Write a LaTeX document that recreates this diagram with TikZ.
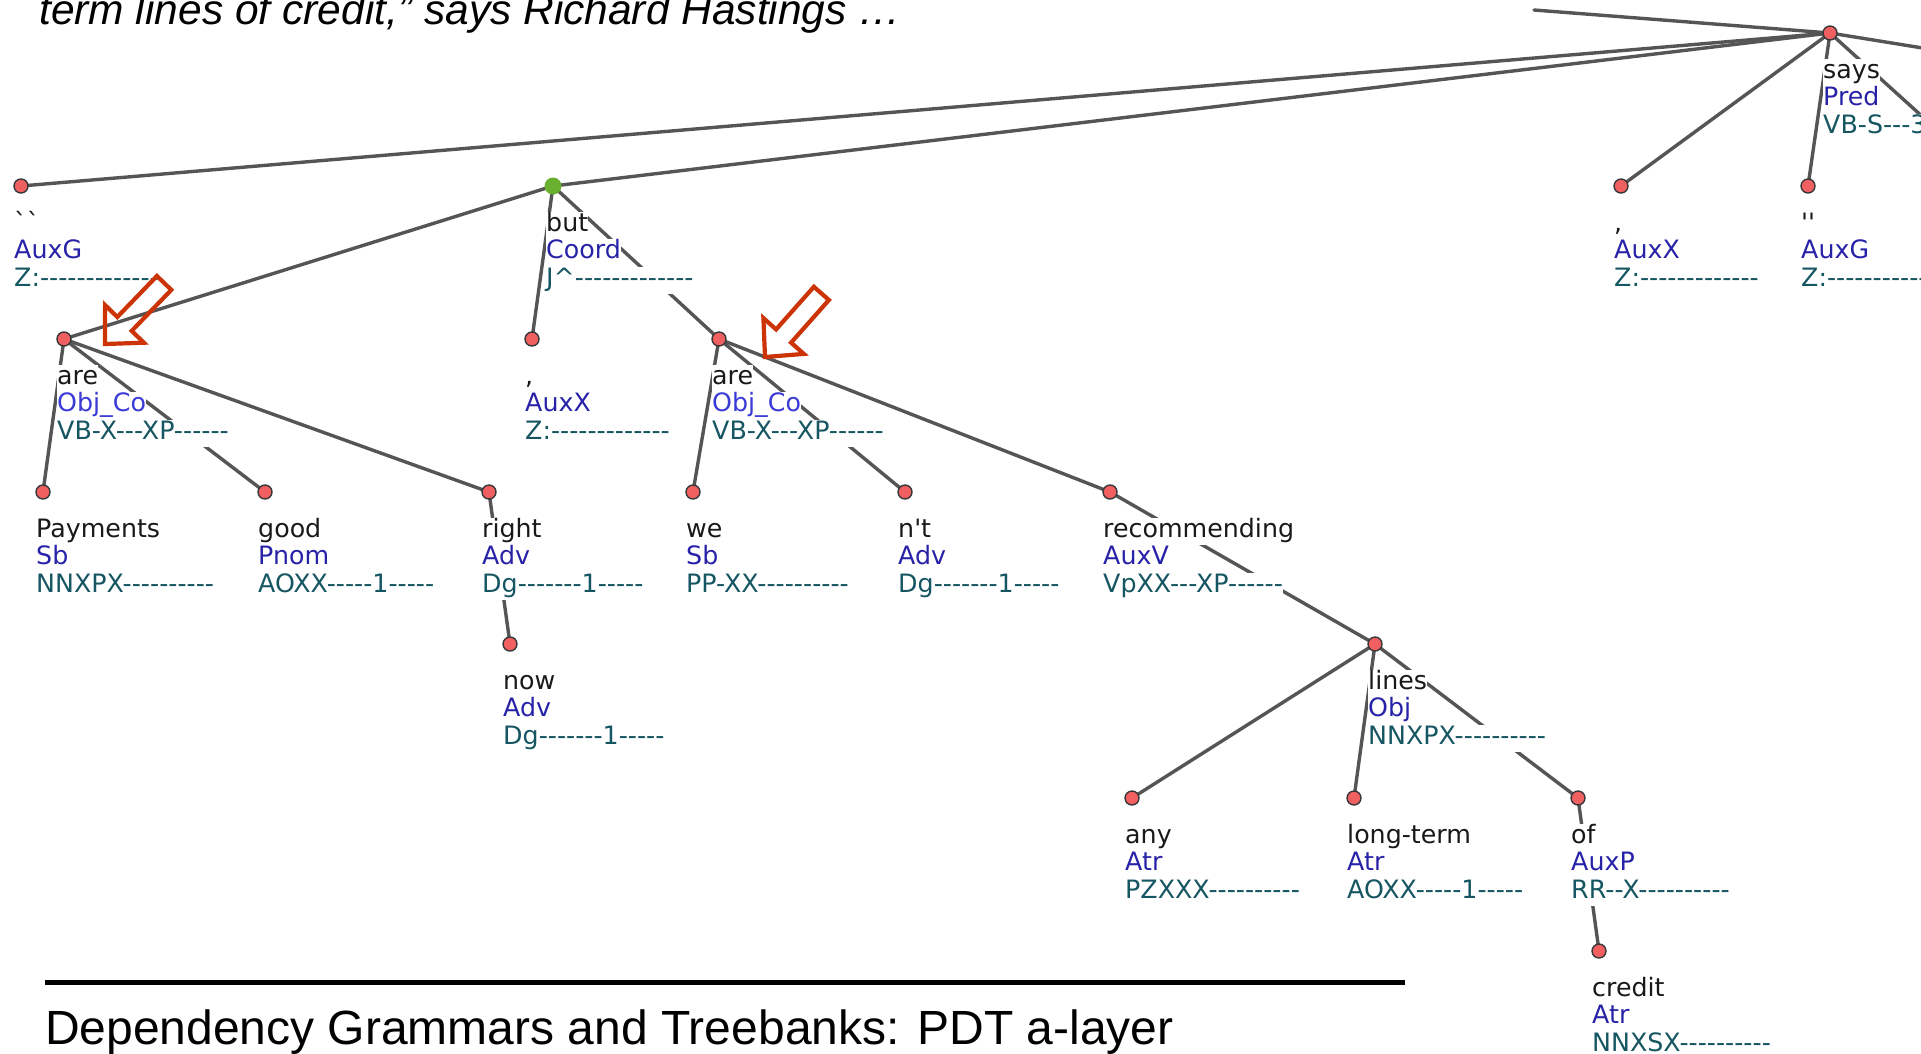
\documentclass[tikz,border=0pt]{standalone}
\usepackage{fontspec}
\setmainfont{Liberation Sans}
\newfontfamily\tredfont{DejaVu Sans}[Ligatures=TeXOff]
\definecolor{nodered}{RGB}{240,96,96}
\definecolor{nodegreen}{RGB}{104,176,46}
\definecolor{edgegray}{RGB}{85,85,85}
\definecolor{wordcol}{RGB}{25,25,25}
\definecolor{afuncol}{RGB}{40,34,168}
\definecolor{cocol}{RGB}{58,58,214}
\definecolor{tagcol}{RGB}{22,86,98}
\definecolor{arrowcol}{RGB}{204,52,8}
\newcommand\treelab[6]{%
  \node[labsty, text=wordcol, anchor=base west] (#1w) at (#2-7, #3+45) {#4\hspace{4pt}};
  \node[labsty, text=afuncol, anchor=base west] (#1a) at (#2-7, #3+72.5) {#5\hspace{4pt}};
  \node[labsty, text=tagcol, anchor=base west] (#1t) at (#2-7, #3+100) {#6\hspace{4pt}};
}
\begin{document}
\begin{tikzpicture}[x=1pt,y=-1pt,
  edge/.style={draw=edgegray, line width=3.4pt, line cap=round},
  labsty/.style={fill=white, inner xsep=0pt, inner ysep=0pt, text height=19.5pt, text depth=8pt,
     font=\tredfont\fontsize{25.3}{27.5}\selectfont},
  rnode/.style={circle, draw=black!78, line width=1.4pt, fill=nodered, minimum size=14pt, inner sep=0pt},
  gnode/.style={circle, fill=nodegreen, minimum size=17pt, inner sep=0pt},
  hollowarrow/.style={draw=arrowcol, line width=4.2pt, line join=miter},
  titlesty/.style={inner sep=0pt, anchor=base west, text=black}]
\useasboundingbox (0,0) rectangle (1921,1053);
\clip (0,0) rectangle (1921,1053);
\fill[white] (0,0) rectangle (1921,1053);

% titles
\node[titlesty, font=\fontsize{42.5}{50}\selectfont\itshape] (toptitle) at (39,24.5)
  {term lines of credit,” says Richard Hastings …};
\coordinate (ruleA) at (45,982);
\coordinate (ruleB) at (1405,982);
\draw[line width=5pt, black] (ruleA) -- (ruleB);
\node[titlesty, font=\fontsize{48}{56}\selectfont] (bottitle) at (45,1044)
  {Dependency Grammars and Treebanks: PDT a-layer};

% positions
\coordinate (says) at (1830,33);
\coordinate (q1) at (21,186);
\coordinate (but) at (553,186);
\coordinate (c2) at (1621,186);
\coordinate (q2) at (1808,186);
\coordinate (are1) at (64,339);
\coordinate (c1) at (532,339);
\coordinate (are2) at (719,339);
\coordinate (pay) at (43,492);
\coordinate (good) at (265,492);
\coordinate (right) at (489,492);
\coordinate (we) at (693,492);
\coordinate (nt) at (905,492);
\coordinate (rec) at (1110,492);
\coordinate (now) at (510,644);
\coordinate (lines) at (1375,644);
\coordinate (any) at (1132,798);
\coordinate (lt) at (1354,798);
\coordinate (of) at (1578,798);
\coordinate (credit) at (1599,951);
\coordinate (offtop) at (1534,10);
\coordinate (offr1) at (1935,50);
\coordinate (offr2) at (1935,128);

% edges
\draw[edge] (offtop) -- (says);
\draw[edge] (says) -- (offr1);
\draw[edge] (says) -- (offr2);
\draw[edge] (says) -- (q1);
\draw[edge] (says) -- (but);
\draw[edge] (says) -- (c2);
\draw[edge] (says) -- (q2);
\draw[edge] (but) -- (are1);
\draw[edge] (but) -- (c1);
\draw[edge] (but) -- (are2);
\draw[edge] (are1) -- (pay);
\draw[edge] (are1) -- (good);
\draw[edge] (are1) -- (right);
\draw[edge] (right) -- (now);
\draw[edge] (are2) -- (we);
\draw[edge] (are2) -- (nt);
\draw[edge] (are2) -- (rec);
\draw[edge] (rec) -- (lines);
\draw[edge] (lines) -- (any);
\draw[edge] (lines) -- (lt);
\draw[edge] (lines) -- (of);
\draw[edge] (of) -- (credit);

% labels
\treelab{says}{1830}{33}{says}{Pred}{VB-S---3P-AA---}
\treelab{q1}{21}{186}{``}{AuxG}{Z:-------------}
\treelab{but}{553}{186}{but}{Coord}{J\textasciicircum-------------}
\treelab{c2}{1621}{186}{,}{AuxX}{Z:-------------}
\treelab{q2}{1808}{186}{''}{AuxG}{Z:-------------}
\treelab{are1}{64}{339}{are}{\textcolor{cocol}{Obj\_Co}}{VB-X---XP------}
\treelab{c1}{532}{339}{,}{AuxX}{Z:-------------}
\treelab{are2}{719}{339}{are}{\textcolor{cocol}{Obj\_Co}}{VB-X---XP------}
\treelab{pay}{43}{492}{Payments}{Sb}{NNXPX----------}
\treelab{good}{265}{492}{good}{Pnom}{AOXX-----1-----}
\treelab{right}{489}{492}{right}{Adv}{Dg-------1-----}
\treelab{we}{693}{492}{we}{Sb}{PP-XX----------}
\treelab{nt}{905}{492}{n't}{Adv}{Dg-------1-----}
\treelab{rec}{1110}{492}{recommending}{AuxV}{VpXX---XP------}
\treelab{now}{510}{644}{now}{Adv}{Dg-------1-----}
\treelab{lines}{1375}{644}{lines}{Obj}{NNXPX----------}
\treelab{any}{1132}{798}{any}{Atr}{PZXXX----------}
\treelab{lt}{1354}{798}{long-term}{Atr}{AOXX-----1-----}
\treelab{of}{1578}{798}{of}{AuxP}{RR--X----------}
\treelab{credit}{1599}{951}{credit}{Atr}{NNXSX----------}

% node circles
\node[rnode] (saysC) at (says) {};
\node[rnode] (q1C) at (q1) {};
\node[gnode] (butC) at (but) {};
\node[rnode] (c2C) at (c2) {};
\node[rnode] (q2C) at (q2) {};
\node[rnode] (are1C) at (are1) {};
\node[rnode] (c1C) at (c1) {};
\node[rnode] (are2C) at (are2) {};
\node[rnode] (payC) at (pay) {};
\node[rnode] (goodC) at (good) {};
\node[rnode] (rightC) at (right) {};
\node[rnode] (weC) at (we) {};
\node[rnode] (ntC) at (nt) {};
\node[rnode] (recC) at (rec) {};
\node[rnode] (nowC) at (now) {};
\node[rnode] (linesC) at (lines) {};
\node[rnode] (anyC) at (any) {};
\node[rnode] (ltC) at (lt) {};
\node[rnode] (ofC) at (of) {};
\node[rnode] (creditC) at (credit) {};

% hollow block arrows
\draw[hollowarrow] (156.9,276.0) -- (117.3,317.0) -- (105.1,305.1) -- (105,344)
  -- (143.9,342.7) -- (131.7,330.9) -- (171.3,289.9) -- cycle;
\draw[hollowarrow] (813.9,286.8) -- (776.1,329.4) -- (763.4,318.1) -- (765,357)
  -- (803.8,353.9) -- (791.1,342.6) -- (828.9,300.0) -- cycle;
\end{tikzpicture}
\end{document}
